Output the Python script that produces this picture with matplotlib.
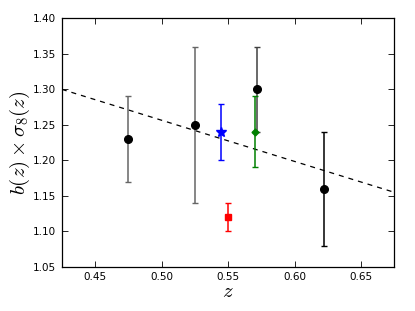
import matplotlib
matplotlib.use('Agg')
import matplotlib.pyplot as plt

plt.rcParams['mathtext.fontset'] = 'cm'

# measurements (black circles)
z_meas = [0.475, 0.525, 0.572, 0.622]
b_meas = [1.23, 1.25, 1.30, 1.16]
err_meas = [0.06, 0.11, 0.06, 0.08]
ecol_meas = ['0.4', '0.4', '0.25', 'k']

# other points
z_star, b_star, err_star = [0.545], [1.24], [0.04]
z_diam, b_diam, err_diam = [0.570], [1.24], [0.05]
z_sq, b_sq, err_sq = [0.550], [1.12], [0.02]

# model line
z_line = [0.425, 0.675]
b_line = [1.30, 1.155]

fig = plt.figure(figsize=(4.15, 3.11), dpi=100)
ax = fig.add_axes([0.149, 0.142, 0.801, 0.799])

ax.plot(z_line, b_line, '--', color='k', lw=0.9, dashes=(4, 4))

for z, b, e, c in zip(z_meas, b_meas, err_meas, ecol_meas):
    ax.errorbar([z], [b], yerr=[e], fmt='o', color='k', ecolor=c, ms=5.5,
                capsize=2.5, elinewidth=1.1, zorder=3)
ax.errorbar(z_star, b_star, yerr=err_star, fmt='*', color='b', ms=7,
            capsize=2.5, elinewidth=1.1, zorder=3)
ax.errorbar(z_diam, b_diam, yerr=err_diam, fmt='D', color='g', ms=3.5,
            capsize=2.5, elinewidth=1.1, zorder=3)
ax.errorbar(z_sq, b_sq, yerr=err_sq, fmt='s', color='r', ms=4.5,
            capsize=2.5, elinewidth=1.1, zorder=3)

ax.set_xlim(0.425, 0.675)
ax.set_ylim(1.05, 1.40)
ax.set_xticks([0.45, 0.50, 0.55, 0.60, 0.65])
ax.set_yticks([1.05, 1.10, 1.15, 1.20, 1.25, 1.30, 1.35, 1.40])
ax.xaxis.set_major_formatter(matplotlib.ticker.FormatStrFormatter('%.2f'))
ax.yaxis.set_major_formatter(matplotlib.ticker.FormatStrFormatter('%.2f'))
ax.tick_params(direction='in', top=True, right=True, labelsize=7.5, length=4,
               width=0.6, pad=4)
for s in ax.spines.values():
    s.set_linewidth(0.9)

ax.set_xlabel(r'$z$', fontsize=15, labelpad=-1)
ax.set_ylabel(r'$b(z)\times\sigma_8(z)$', fontsize=15, labelpad=1)

fig.savefig('out.png', dpi=100)
